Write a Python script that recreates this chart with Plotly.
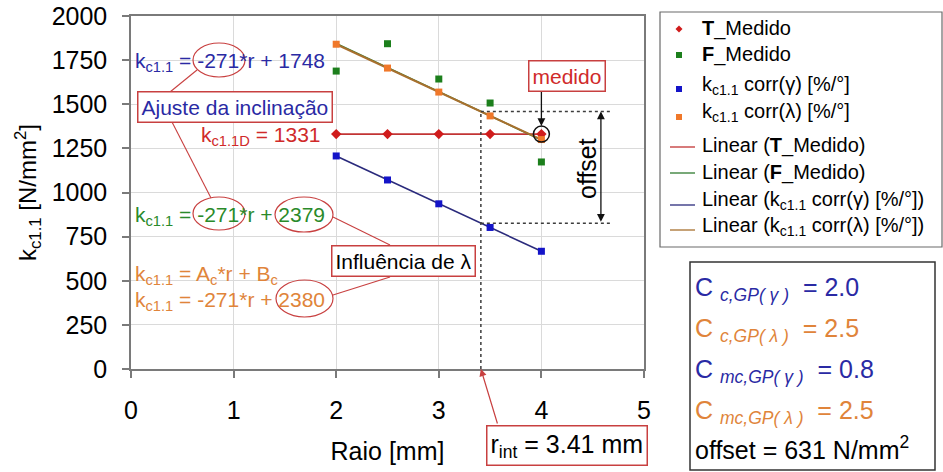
import numpy as np
import plotly.graph_objects as go

# ---------------- data ----------------
raio = [2.0, 2.5, 3.0, 3.5, 4.0]
t_medido = [1331, 1331, 1331, 1331, 1331]
f_medido = [1688, 1843, 1643, 1507, 1173]
k_corr_gamma = [1207, 1071, 936, 802, 667]
k_corr_lambda = [1840, 1705, 1569, 1434, 1300]
r_int = 3.41
offset_value = 631
x_ticks = [0, 1, 2, 3, 4, 5]
y_ticks = [0, 250, 500, 750, 1000, 1250, 1500, 1750, 2000]

FONT = "Arial, Liberation Sans, sans-serif"
W, H = 943, 472
ML, MT = 131, 16
PW, PH = 513, 353
MR, MB = W - ML - PW, H - MT - PH


def px(p):
    return (p - ML) / PW


def py(p):
    return (MT + PH - p) / PH


def fit(y):
    a, b = np.polyfit(raio, y, 1)
    return a, b


RED_M, RED_L = "#d01c1c", "#c23434"
GRN_M, GRN_L = "#1c7f1c", "#2f7a2f"
BLU_M, BLU_L = "#1414c8", "#2a2a7c"
ORA_M, ORA_L = "#f0782a", "#a8702e"
BLU_T, GRN_T, ORA_T, RED_T = "#2a2aa4", "#2a8a2a", "#e0843a", "#d02a2a"
BOX_RED = "#c84040"

fig = go.Figure()

series = [
    ("T_Medido", t_medido, RED_M, RED_L, "diamond"),
    ("F_Medido", f_medido, GRN_M, GRN_L, "square"),
    ("kc1.1 corr(γ) [%/°]", k_corr_gamma, BLU_M, BLU_L, "square"),
    ("kc1.1 corr(λ) [%/°]", k_corr_lambda, ORA_M, ORA_L, "square"),
]
xl = [min(raio), max(raio)]
for name, ys, mc, lc, sym in series:
    a, b = fit(ys)
    fig.add_trace(go.Scatter(x=xl, y=[a * v + b for v in xl], mode="lines",
                             line=dict(color=lc, width=2 if lc == ORA_L else 1.6),
                             name="Linear (" + name + ")", showlegend=False,
                             hoverinfo="skip"))
for name, ys, mc, lc, sym in series:
    fig.add_trace(go.Scatter(x=raio, y=ys, mode="markers",
                             marker=dict(color=mc, size=7 if sym == "square" else 8,
                                         symbol=sym, line=dict(width=0)),
                             name=name, showlegend=False))

aL, bL = fit(k_corr_lambda)
aG, bG = fit(k_corr_gamma)
top_y = aL * r_int + bL
bot_y = aG * r_int + bG

shapes = []
dash = dict(color="#3c3c3c", width=1.5, dash="3px,3px")
shapes.append(dict(type="line", xref="x", yref="y", x0=r_int, x1=r_int, y0=0, y1=top_y, line=dash))
shapes.append(dict(type="line", xref="x", yref="y", x0=r_int, x1=4.68, y0=top_y, y1=top_y, line=dash))
shapes.append(dict(type="line", xref="x", yref="y", x0=r_int, x1=4.68, y0=bot_y, y1=bot_y, line=dash))
# circle around measured point
shapes.append(dict(type="circle", xref="x", yref="y", xsizemode="pixel", ysizemode="pixel",
                   xanchor=raio[-1], yanchor=t_medido[-1], x0=-8, x1=8, y0=-8, y1=8,
                   line=dict(color="#111111", width=1.5)))

# ellipses
for (x0, y0, x1, y1) in [(193, 43, 245, 77), (193, 197, 245, 230),
                         (275, 197, 333, 232), (276, 280, 333, 317)]:
    shapes.append(dict(type="circle", xref="paper", yref="paper",
                       x0=px(x0), x1=px(x1), y0=py(y1), y1=py(y0),
                       line=dict(color=BOX_RED, width=1.2)))
# connector lines
for (x0, y0, x1, y1) in [(170, 92, 197, 70), (172, 122, 211, 198),
                         (333, 217, 390, 245), (333, 295, 390, 277)]:
    shapes.append(dict(type="line", xref="paper", yref="paper",
                       x0=px(x0), x1=px(x1), y0=py(y0), y1=py(y1),
                       line=dict(color=BOX_RED, width=1.1)))

# legend frame
shapes.append(dict(type="rect", xref="paper", yref="paper",
                   x0=px(660), x1=px(942), y0=py(247), y1=py(12),
                   line=dict(color="#6a6a6a", width=1.2), fillcolor="white", layer="below"))
# parameter box frame
shapes.append(dict(type="rect", xref="paper", yref="paper",
                   x0=px(690), x1=px(935), y0=py(470), y1=py(262),
                   line=dict(color="#333333", width=1.5), fillcolor="white", layer="below"))

# legend symbols
def sq(cx, cy, c, s=3.5):
    return dict(type="rect", xref="paper", yref="paper", x0=px(cx - s), x1=px(cx + s),
                y0=py(cy + s), y1=py(cy - s), fillcolor=c, line=dict(width=0))


def dm(cx, cy, c, s=3.5):
    path = "M {} {} L {} {} L {} {} L {} {} Z".format(
        px(cx), py(cy - s), px(cx + s), py(cy), px(cx), py(cy + s), px(cx - s), py(cy))
    return dict(type="path", xref="paper", yref="paper", path=path, fillcolor=c,
                line=dict(width=0))


shapes.append(dm(679, 29, RED_M))
shapes.append(sq(679, 55, GRN_M, 3))
shapes.append(sq(679, 89, BLU_M, 3))
shapes.append(sq(679, 117, ORA_M, 3))
for yy, c in [(147, RED_L), (173, GRN_L), (205, BLU_L), (230, ORA_L)]:
    shapes.append(dict(type="line", xref="paper", yref="paper", x0=px(670), x1=px(695),
                       y0=py(yy), y1=py(yy), line=dict(color=c, width=1.3)))

ann = []


def txt(text, x, y, color="black", size=21, xanchor="left", **kw):
    d = dict(text=text, xref="paper", yref="paper", x=px(x), y=py(y), xanchor=xanchor,
             yanchor="middle", showarrow=False, font=dict(family=FONT, size=size, color=color))
    d.update(kw)
    ann.append(d)


def box(text, x, y, color="black", size=21, **kw):
    txt(text, x, y, color, size, xanchor="center", bordercolor=BOX_RED, borderwidth=1.5,
        borderpad=3, bgcolor="white", **kw)


sub = "k<sub>c1.1</sub>"
txt(sub + " = -271*r + 1748", 133, 62, BLU_T)
box("Ajuste da inclinação", 235, 107, BLU_T)
txt("k<sub>c1.1D</sub> = 1331", 323, 136, RED_T, xanchor="right")
txt(sub + " = -271*r + 2379", 133, 216, GRN_T)
txt(sub + " = A<sub>c</sub>*r + B<sub>c</sub>", 133, 275, ORA_T)
txt(sub + " = -271*r + 2380", 133, 301, ORA_T)
box("Influência de λ", 403, 261)
box("medido", 567, 76, RED_T)
txt("offset", 587, 169, "black", 25, xanchor="center", textangle=-90)
box("r<sub>int</sub> = 3.41 mm", 567, 445, "black", 25)

# legend texts
leg = [("<b>T</b>_Medido", 29), ("<b>F</b>_Medido", 55),
       (sub + " corr(γ) [%/°]", 86), (sub + " corr(λ) [%/°]", 113),
       ("Linear (<b>T</b>_Medido)", 145), ("Linear (<b>F</b>_Medido)", 172),
       ("Linear (" + sub + " corr(γ) [%/°])", 200), ("Linear (" + sub + " corr(λ) [%/°])", 226)]
for t, yy in leg:
    txt(t, 700, yy, "black", 20)

# parameter box texts
NB = "\u00a0"
params = [("C" + NB + "<sub><i>c,GP(" + NB + "γ" + NB + ")</i></sub>" + NB + NB + "= 2.0", BLU_T, 289),
          ("C" + NB + "<sub><i>c,GP(" + NB + "λ" + NB + ")</i></sub>" + NB + NB + "= 2.5", ORA_T, 330),
          ("C" + NB + "<sub><i>mc,GP(" + NB + "γ" + NB + ")</i></sub>" + NB + NB + "= 0.8", BLU_T, 371),
          ("C" + NB + "<sub><i>mc,GP(" + NB + "λ" + NB + ")</i></sub>" + NB + NB + "= 2.5", ORA_T, 412)]
for t, c, yy in params:
    txt(t, 693, yy, c, 25)
txt("offset = " + str(offset_value) + " N/mm<sup>2</sup>", 693, 448, "black", 25)

# arrows
ann.append(dict(x=raio[-1], y=1377, ax=raio[-1], ay=1578, xref="x", yref="y", axref="x",
                ayref="y", text="", showarrow=True, arrowhead=2, arrowsize=1.2,
                arrowwidth=1.3, arrowcolor="#111111"))
ann.append(dict(x=4.58, y=top_y, ax=4.58, ay=bot_y, xref="x", yref="y", axref="x",
                ayref="y", text="", showarrow=True, arrowhead=2, arrowsize=1.2,
                arrowwidth=1.3, arrowcolor="#111111", arrowside="end+start"))
ann.append(dict(x=r_int, y=0, ax=17, ay=56, xref="x", yref="y", text="", showarrow=True,
                arrowhead=2, arrowsize=1.2, arrowwidth=1.2, arrowcolor=BOX_RED))

fig.update_layout(
    width=W, height=H, margin=dict(l=ML, r=MR, t=MT, b=MB, autoexpand=False),
    paper_bgcolor="white", plot_bgcolor="white", showlegend=False,
    font=dict(family=FONT, color="black"),
    shapes=shapes, annotations=ann,
)
fig.update_xaxes(range=[0, 5], tickvals=x_ticks, showgrid=True, gridcolor="#dadada",
                 gridwidth=1, showline=True, linecolor="#7a7a7a", linewidth=1.5, mirror=True,
                 ticks="outside", ticklen=7, tickcolor="#7a7a7a", tickwidth=1.5,
                 tickfont=dict(size=25, family=FONT), ticklabelstandoff=11, zeroline=False,
                 title=dict(text="Raio [mm]", font=dict(size=25, family=FONT), standoff=20),
                 automargin=False, ticklabeloverflow="allow")
fig.update_yaxes(range=[0, 2000], tickvals=y_ticks, showgrid=True, gridcolor="#dadada",
                 gridwidth=1, showline=True, linecolor="#7a7a7a", linewidth=1.5, mirror=True,
                 ticks="outside", ticklen=7, tickcolor="#7a7a7a", tickwidth=1.5,
                 tickfont=dict(size=25, family=FONT), ticklabelstandoff=10, zeroline=False,
                 title=dict(text="k<sub>c1.1</sub> [N/mm<sup>2</sup>]", font=dict(size=24, family=FONT),
                            standoff=8),
                 automargin=False, ticklabeloverflow="allow")

fig.write_html("out.html", config={"displayModeBar": False},
               post_script="document.body.style.margin='0';document.body.style.padding='0';")
